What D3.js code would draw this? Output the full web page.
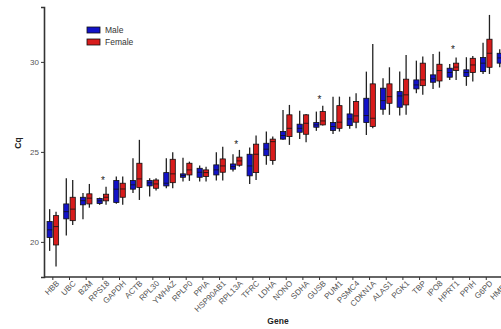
<!DOCTYPE html>
<html>
<head>
<meta charset="utf-8">
<script src="https://cdn.jsdelivr.net/npm/d3@7"></script>
<style>
  body { margin: 0; background: #fff; }
  svg { display: block; font-family: "Liberation Sans", Arial, sans-serif; }
</style>
</head>
<body>
<div id="plot"></div>
<script>
const genes = ["HBB", "UBC", "B2M", "RPS18", "GAPDH", "ACTB", "RPL30", "YWHAZ", "RPLP0", "PPIA",
  "HSP90AB1", "RPL13A", "TFRC", "LDHA", "NONO", "SDHA", "GUSB", "PUM1", "PSMC4", "CDKN1A",
  "ALAS1", "PGK1", "TBP", "IPO8", "HPRT1", "PPIH", "G6PD", "HMBS"];

// [lower whisker, q1, median, q3, upper whisker]
const male = [
  [19.50, 20.24, 20.67, 21.13, 21.82],
  [20.35, 21.28, 21.68, 22.11, 23.54],
  [21.26, 22.06, 22.29, 22.48, 22.71],
  [22.06, 22.13, 22.28, 22.41, 22.46],
  [22.12, 22.19, 22.93, 23.41, 23.63],
  [22.71, 22.93, 23.17, 23.41, 24.65],
  [22.52, 23.11, 23.28, 23.41, 23.54],
  [22.98, 23.11, 23.26, 23.85, 24.65],
  [23.35, 23.59, 23.69, 23.78, 24.68],
  [23.35, 23.59, 23.87, 24.09, 24.24],
  [23.41, 23.72, 24.00, 24.28, 24.98],
  [23.91, 24.04, 24.18, 24.33, 24.87],
  [23.21, 23.67, 24.22, 24.87, 25.24],
  [24.28, 24.79, 25.15, 25.48, 26.13],
  [25.67, 25.71, 25.91, 26.13, 27.33],
  [25.72, 26.09, 26.31, 26.54, 27.28],
  [26.17, 26.37, 26.50, 26.63, 27.24],
  [26.00, 26.19, 26.41, 26.63, 28.07],
  [26.28, 26.46, 26.83, 27.11, 28.07],
  [25.94, 26.63, 27.02, 27.98, 29.46],
  [27.06, 27.37, 27.85, 28.54, 29.09],
  [27.02, 27.48, 28.11, 28.35, 29.46],
  [28.26, 28.50, 28.72, 29.00, 30.07],
  [28.50, 28.87, 29.06, 29.28, 30.44],
  [29.00, 29.15, 29.41, 29.65, 29.89],
  [28.67, 29.19, 29.41, 29.56, 30.26],
  [29.33, 29.46, 29.93, 30.24, 31.07],
  [29.70, 29.93, 30.22, 30.48, 30.70]
];

const female = [
  [18.63, 19.83, 20.85, 21.46, 21.68],
  [20.94, 21.18, 21.82, 22.48, 23.44],
  [21.90, 22.11, 22.43, 22.67, 23.22],
  [22.06, 22.28, 22.48, 22.65, 23.07],
  [22.06, 22.48, 22.94, 23.26, 23.63],
  [22.33, 23.02, 23.50, 24.37, 25.67],
  [22.85, 22.98, 23.22, 23.44, 23.54],
  [22.98, 23.29, 23.78, 24.59, 24.98],
  [23.39, 23.72, 24.00, 24.37, 24.46],
  [23.35, 23.63, 23.85, 24.00, 24.18],
  [23.41, 23.87, 24.22, 24.61, 25.29],
  [24.18, 24.26, 24.50, 24.71, 25.11],
  [23.44, 23.85, 24.87, 25.43, 25.91],
  [24.28, 24.52, 25.57, 25.71, 25.85],
  [25.39, 25.85, 26.31, 27.06, 27.61],
  [25.54, 25.98, 26.59, 27.06, 27.11],
  [26.46, 26.50, 26.72, 27.24, 27.57],
  [26.13, 26.31, 26.65, 27.57, 28.07],
  [26.31, 26.65, 27.00, 27.80, 28.26],
  [26.31, 26.41, 26.87, 28.78, 31.00],
  [27.06, 27.70, 28.07, 28.78, 29.70],
  [27.06, 27.61, 28.17, 29.04, 30.39],
  [28.17, 28.68, 29.00, 29.93, 30.30],
  [28.57, 28.94, 29.52, 29.87, 30.57],
  [29.00, 29.52, 29.71, 29.93, 30.24],
  [28.91, 29.41, 29.83, 30.20, 30.33],
  [29.33, 29.70, 30.48, 31.26, 32.61],
  [29.80, 30.10, 30.50, 30.90, 31.40]
];

// genes marked with an asterisk, and the Cq level the mark sits at
const sigGenes = ["RPS18", "RPL13A", "GUSB", "HPRT1"];
const sigLevels = [23.55, 25.55, 28.05, 30.85];

const yTicks = [20, 25, 30];
const groups = ["Male", "Female"];
const groupColors = ["#1212c8", "#d81c1c"];

const width = 501, height = 329;
const svg = d3.select("#plot").append("svg")
  .attr("width", width)
  .attr("height", height);

const y = d3.scaleLinear().domain([18.05, 33.05]).range([277, 7]);
const x = d3.scaleBand().domain(genes).range([44.5, 44.5 + genes.length * 16.67]);
const color = d3.scaleOrdinal().domain(groups).range(groupColors);

const boxW = 5.2, offset = 3.2;

const rows = [];
genes.forEach((g, i) => {
  rows.push({gene: g, group: "Male", v: male[i], dx: -offset});
  rows.push({gene: g, group: "Female", v: female[i], dx: offset});
});

const cx = d => x(d.gene) + x.bandwidth() / 2 + d.dx;

const boxes = svg.append("g").selectAll("g")
  .data(rows)
  .join("g");

boxes.append("line")
  .attr("x1", cx).attr("x2", cx)
  .attr("y1", d => y(d.v[0]))
  .attr("y2", d => y(d.v[4]))
  .attr("stroke", "#222")
  .attr("stroke-width", 1.3);

boxes.append("rect")
  .attr("x", d => cx(d) - boxW / 2)
  .attr("width", boxW)
  .attr("y", d => y(d.v[3]))
  .attr("height", d => Math.max(1.5, y(d.v[1]) - y(d.v[3])))
  .attr("fill", d => color(d.group))
  .attr("stroke", "#111")
  .attr("stroke-width", 0.8);

boxes.append("line")
  .attr("x1", d => cx(d) - boxW / 2)
  .attr("x2", d => cx(d) + boxW / 2)
  .attr("y1", d => y(d.v[2]))
  .attr("y2", d => y(d.v[2]))
  .attr("stroke", "#111")
  .attr("stroke-width", 0.8);

// asterisks
svg.append("g").selectAll("text")
  .data(sigGenes)
  .join("text")
  .attr("x", g => x(g) + x.bandwidth() / 2)
  .attr("y", (g, i) => y(sigLevels[i]) + 6)
  .attr("text-anchor", "middle")
  .style("font-size", "10px")
  .attr("fill", "#222")
  .text("*");

// axes
const yAxis = svg.append("g")
  .attr("transform", "translate(44,0)")
  .call(d3.axisLeft(y).tickValues(yTicks).tickSize(3).tickPadding(2));
yAxis.select(".domain").attr("stroke", "#333").attr("stroke-width", 1.6);
yAxis.selectAll(".tick line").attr("stroke", "#333");
yAxis.selectAll(".tick text").attr("fill", "#555").style("font-size", "8px");

const xAxis = svg.append("g")
  .attr("transform", "translate(0,277)")
  .call(d3.axisBottom(x).tickSize(3).tickSizeOuter(0));
xAxis.select(".domain").attr("stroke", "#333").attr("stroke-width", 1.6)
  .attr("d", `M44,0H${width}`);
xAxis.selectAll(".tick line").attr("stroke", "#333");
xAxis.selectAll(".tick text")
  .attr("fill", "#555")
  .style("font-size", "8px")
  .attr("text-anchor", "end")
  .attr("transform", "translate(2,2) rotate(-45)")
  .attr("y", 3)
  .attr("dy", "0.5em");

svg.append("text")
  .attr("transform", "translate(21,143) rotate(-90)")
  .attr("text-anchor", "middle")
  .style("font-size", "8.5px")
  .style("font-weight", "bold")
  .attr("fill", "#222")
  .text("Cq");

svg.append("text")
  .attr("x", 278)
  .attr("y", 324)
  .attr("text-anchor", "middle")
  .style("font-size", "8.5px")
  .style("font-weight", "bold")
  .attr("fill", "#222")
  .text("Gene");

// legend
const legend = svg.append("g").attr("transform", "translate(87,27)");
groups.forEach((s, i) => {
  const g = legend.append("g").attr("transform", `translate(0,${i * 12})`);
  g.append("rect")
    .attr("width", 13)
    .attr("height", 6)
    .attr("fill", color(s))
    .attr("stroke", "#111")
    .attr("stroke-width", 0.8);
  g.append("text")
    .attr("x", 18)
    .attr("y", 6)
    .style("font-size", "8.5px")
    .attr("fill", "#333")
    .text(s);
});
</script>
</body>
</html>
